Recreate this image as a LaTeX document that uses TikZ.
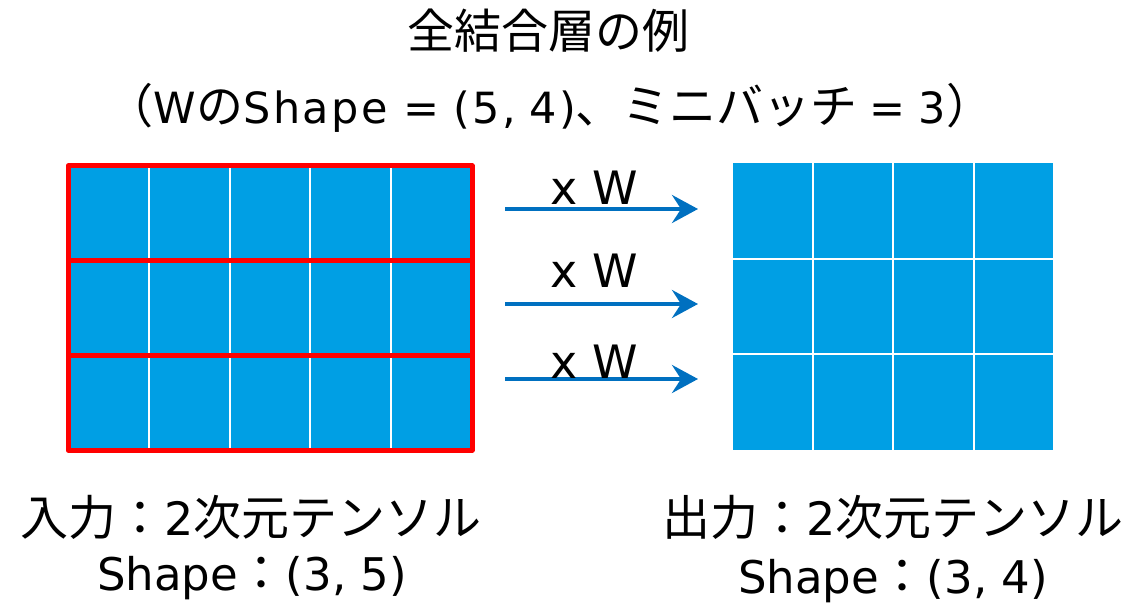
\documentclass[tikz,border=0pt]{standalone}
\usepackage{fontspec}
\setmainfont{Noto Sans CJK JP}
\newfontfamily\latfont{DejaVu Sans}
\newfontfamily\latspaced[LetterSpace=6]{DejaVu Sans}
\newcommand\latsz[2]{{\fontsize{#1}{#1}\selectfont\latfont #2}}
\newcommand\latsp[2]{{\fontsize{#1}{#1}\selectfont\latspaced #2}}
\usetikzlibrary{arrows.meta}
\definecolor{cellblue}{RGB}{0,159,228}
\definecolor{arrowblue}{RGB}{0,112,192}
\definecolor{rowred}{RGB}{255,0,0}
\tikzset{
  cellgrid/.style={draw=white,line width=2pt},
  rowbox/.style={draw=rowred,line width=5pt,line join=round},
  mularrow/.style={draw=arrowblue,line width=4pt,-{Stealth[length=26pt,width=28pt,inset=9pt]}},
  lbl/.style={inner sep=0pt,anchor=base,text=black},
}
\begin{document}
\begin{tikzpicture}[x=1pt,y=-1pt]
\useasboundingbox (0,0) rectangle (1135,604);
% title
\node[lbl,font=\fontsize{47}{52}\selectfont] (title) at (548,49) {全結合層の例};
\node[lbl,font=\fontsize{47}{52}\selectfont] (sub) at (550,124)
  {（\latsp{43}{W}の\latsp{43}{Shape}\hspace{15pt}\latsz{43}{=}\hspace{14pt}\latsp{43}{(5,}\hspace{13pt}\latsp{43}{4)}、ミニバッチ\hspace{12pt}\latsz{43}{=}\hspace{13pt}\latsz{43}{3}）};
% left grid
\fill[cellblue] (68,166) rectangle (472,450);
\foreach \x in {148.8,229.6,310.4,391.2} \draw[cellgrid] (\x,166) -- (\x,450);
\draw[rowbox] (68,166) rectangle (472,260);
\draw[rowbox] (68,260) rectangle (472,355);
\draw[rowbox] (68,355) rectangle (472,450);
% right grid
\fill[cellblue] (733,163) rectangle (1053,450);
\foreach \x in {813,893,974} \draw[cellgrid] (\x,163) -- (\x,450);
\foreach \y in {259,354} \draw[cellgrid] (733,\y) -- (1053,\y);
% arrows
\coordinate (a1s) at (505,209); \coordinate (a1e) at (698,209);
\coordinate (a2s) at (505,304); \coordinate (a2e) at (698,304);
\coordinate (a3s) at (505,379); \coordinate (a3e) at (698,379);
\draw[mularrow] (a1s) -- (a1e);
\draw[mularrow] (a2s) -- (a2e);
\draw[mularrow] (a3s) -- (a3e);
\node[lbl,font=\fontsize{46}{50}\selectfont\latfont] (w1) at (594,205) {x W};
\node[lbl,font=\fontsize{46}{50}\selectfont\latfont] (w2) at (594,287) {x W};
\node[lbl,font=\fontsize{46}{50}\selectfont\latfont] (w3) at (594,378) {x W};
% bottom labels
\node[lbl,font=\fontsize{48}{52}\selectfont] (in1) at (251,535) {入力：\latsz{46}{2}次元テンソル};
\node[lbl,font=\fontsize{48}{52}\selectfont] (in2) at (252,590) {\latsz{45}{Shape}：\latsz{45}{(3, 5)}};
\node[lbl,font=\fontsize{48}{52}\selectfont] (out1) at (893,535) {出力：\latsz{46}{2}次元テンソル};
\node[lbl,font=\fontsize{48}{52}\selectfont] (out2) at (893,593) {\latsz{45}{Shape}：\latsz{45}{(3, 4)}};
\end{tikzpicture}
\end{document}
